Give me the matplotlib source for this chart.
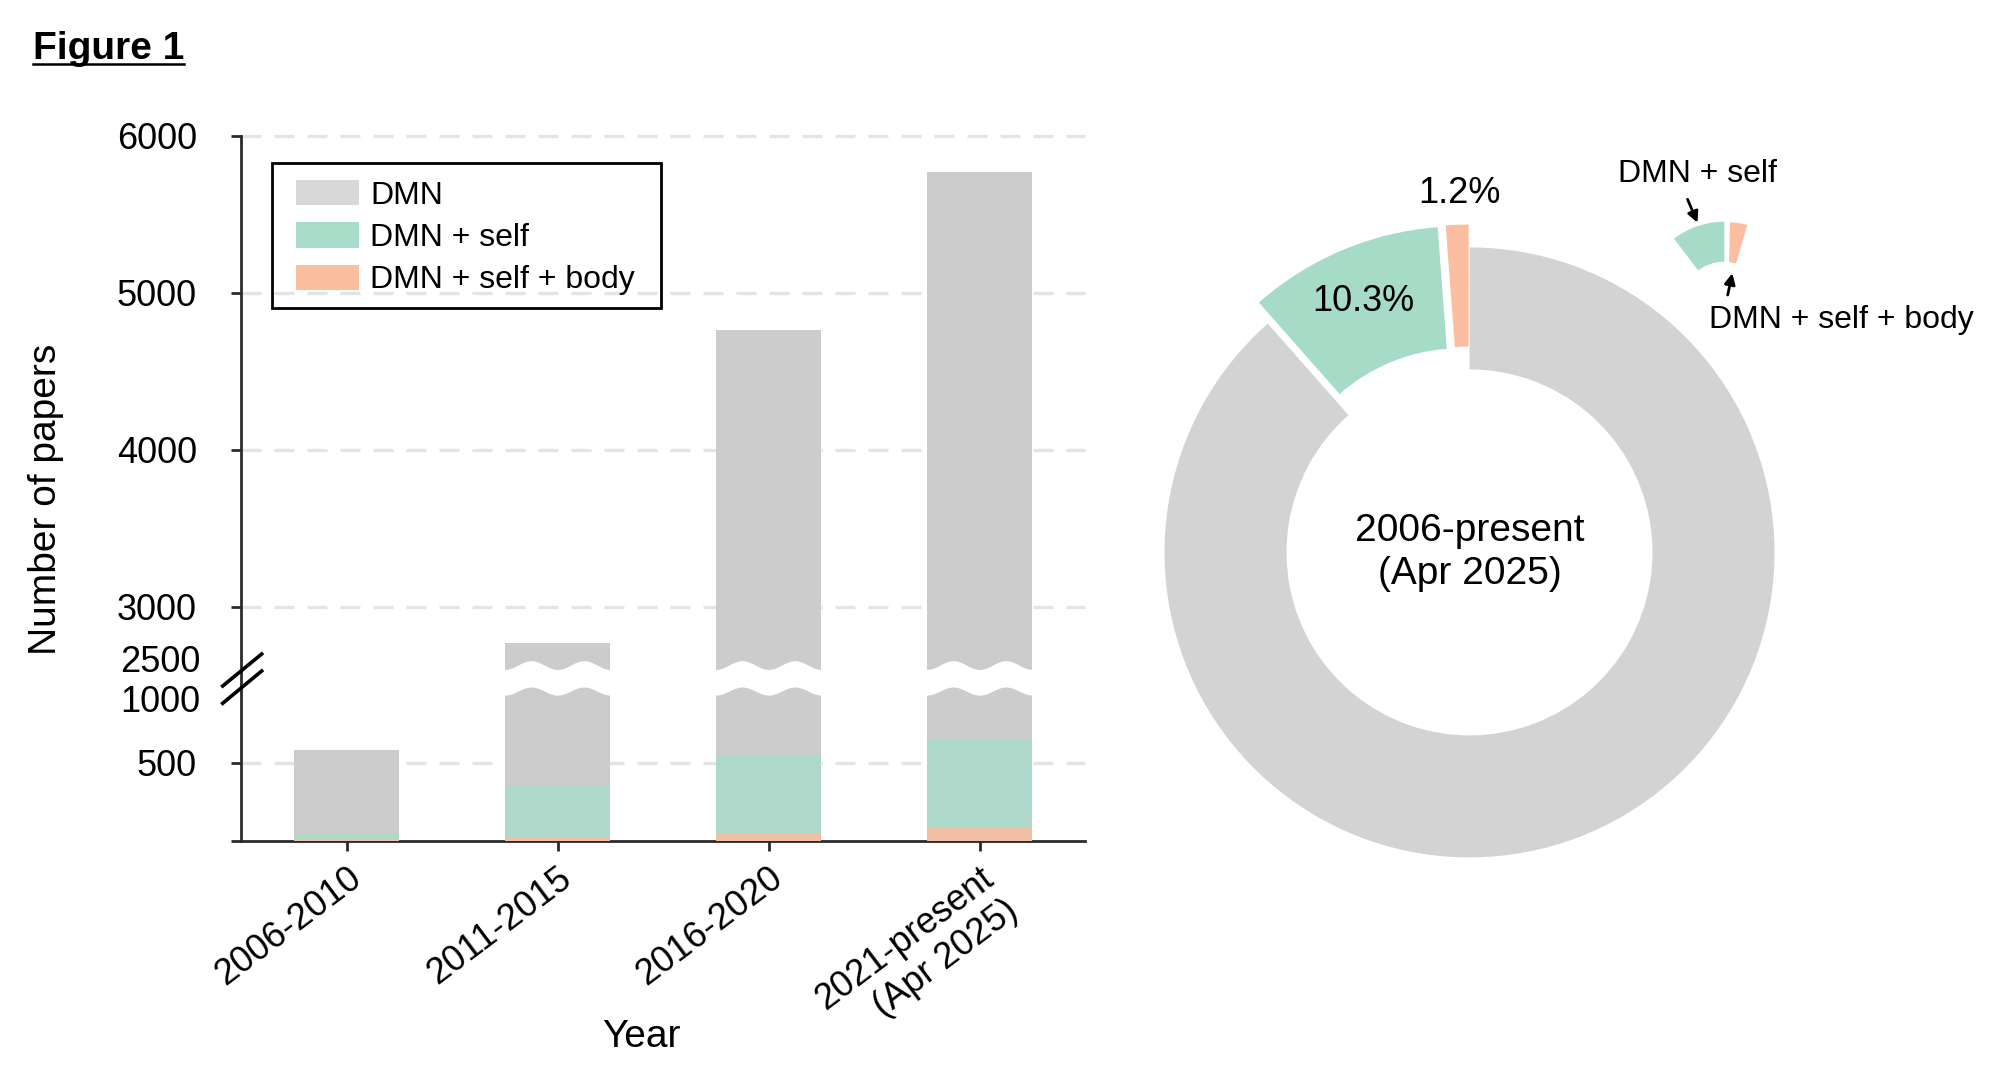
import numpy as np
import matplotlib.pyplot as plt
from matplotlib.patches import Patch, Wedge, Rectangle
from matplotlib.lines import Line2D

plt.rcParams['font.family'] = ['Liberation Sans', 'DejaVu Sans']

# данные
periods = ['2006-2010', '2011-2015', '2016-2020', '2021-present\n(Apr 2025)']
dmn_counts = [581, 2769, 4761, 5767]
self_counts = [51, 357, 549, 650]
body_counts = [3, 26, 51, 86]

series_labels = ['DMN', 'DMN + self', 'DMN + self + body']
pie_shares = [88.5, 10.3, 1.2]

upper_ticks = [3000, 4000, 5000, 6000]
lower_ticks = [0, 500]
lower_grid = [500]

bar_colors = ['#cccccc', '#aed8c9', '#f1bfa5']
legend_colors = ['#d8d8d8', '#a6dcc8', '#fbbfa0']
pie_colors = ['#d3d3d3', '#a6dbc8', '#fbbea0']

W, H, DPI = 2000, 1074, 200
fig = plt.figure(figsize=(W / DPI, H / DPI), dpi=DPI)


def px_box(left, top, right, bottom):
    return [left / W, 1 - bottom / H, (right - left) / W, (bottom - top) / H]


ax_top = fig.add_axes(px_box(241, 135.7, 1085, 685))
ax_bot = fig.add_axes(px_box(241, 685, 1085, 840.7))

x = np.arange(len(periods))
grid_kw = dict(color='#e4e4e4', lw=1.2, ls=(0, (6, 3.9)), zorder=1, clip_on=False)
for ax, grid in ((ax_top, upper_ticks), (ax_bot, lower_grid)):
    ax.bar(x, dmn_counts, width=0.5, color=bar_colors[0], lw=0, zorder=2)
    ax.bar(x, self_counts, width=0.5, color=bar_colors[1], lw=0, zorder=3)
    ax.bar(x, body_counts, width=0.5, color=bar_colors[2], lw=0, zorder=4)
    for g in grid:
        ax.axhline(g, **grid_kw)
    ax.set_xlim(-0.5, 3.5)
    for s in ('top', 'right'):
        ax.spines[s].set_visible(False)
    for s in ('left', 'bottom'):
        ax.spines[s].set_linewidth(1.0)
        ax.spines[s].set_color('#2b2b2b')
    ax.tick_params(axis='both', length=3.6, width=1.0, color='#2b2b2b')
    ax.tick_params(axis='y', labelsize=13, pad=12.2)

ax_top.set_ylim(2500, 6000)
ax_bot.set_ylim(0, 1000)
ax_top.spines['bottom'].set_visible(False)
ax_top.tick_params(axis='x', bottom=False, labelbottom=False)
ax_top.set_yticks(upper_ticks)
ax_bot.set_yticks(lower_ticks, ['', '500'])
ax_bot.set_xticks(x, periods, rotation=37, ha='right', va='top',
                  rotation_mode='anchor', fontsize=13)

# подписи у разрыва оси
lab_kw = dict(xycoords=('axes fraction', 'data'), textcoords='offset points',
              ha='right', va='center_baseline', fontsize=13)
ax_top.annotate('2500', xy=(0, 2500), xytext=(-14.6, 9.7), **lab_kw)
ax_bot.annotate('1000', xy=(0, 1000), xytext=(-14.6, -4.7), **lab_kw)

# знак разрыва на оси
for y0, y1 in ((0.9936, 1.199), (0.8825, 1.09)):
    ax_bot.plot([-0.0217, 0.0245], [y0, y1], transform=ax_bot.transAxes,
                color='black', lw=1.3, clip_on=False, zorder=7)

# волнистый белый разрыв на высоких столбцах
u = np.linspace(-0.004, 0.504, 200)
wave = np.cos(2 * np.pi * (u - 0.125) / 0.25)
for xi, h in zip(x, dmn_counts):
    if h > 1000:
        ax_bot.fill_between(xi - 0.25 + u, 961 + 26 * wave, 1128 + 28 * wave,
                            color='white', lw=0, zorder=6, clip_on=False)

handles = [Patch(facecolor=c, edgecolor='none', label=l)
           for c, l in zip(legend_colors, series_labels)]
ax_top.legend(handles=handles, loc='upper left', bbox_to_anchor=(0.0652, 0.9193),
              borderaxespad=0, borderpad=0, fontsize=11.5, frameon=False,
              handlelength=1.97, handleheight=0.83, handletextpad=0.35,
              labelspacing=0.37)
ax_top.add_patch(Rectangle((0.0364, 0.6858), 0.4609, 0.264, transform=ax_top.transAxes,
                           fill=False, ec='black', lw=1.0, clip_on=False, zorder=5))

fig.text(46 / W, 1 - 499 / H, 'Number of papers', rotation=90,
         ha='center', va='center', fontsize=14)
fig.text(641 / W, 1 - 1037 / H, 'Year', ha='center', va='center', fontsize=14)

title = fig.text(33 / W, 1 - 59.4 / H, 'Figure 1', fontsize=14,
                 fontweight='bold', va='baseline')
bb = title.get_window_extent(renderer=fig.canvas.get_renderer())
fig.add_artist(Line2D([bb.x0 / W, bb.x1 / W], [1 - 63.5 / H] * 2,
                      transform=fig.transFigure, color='black', lw=0.9))

# кольцевая диаграмма
ax_pie = fig.add_axes(px_box(1469.5 - 457.5, 552.4 - 457.5, 1469.5 + 457.5, 552.4 + 457.5))
ax_pie.pie(pie_shares, colors=pie_colors, startangle=90, counterclock=False,
           explode=[0, 0.075, 0.075], radius=1,
           wedgeprops=dict(width=0.4, linewidth=0))
ax_pie.set_xlim(-1.5, 1.5)
ax_pie.set_ylim(-1.5, 1.5)
ax_pie.set_aspect('equal')
ax_pie.axis('off')

ax_pie.text(0, 0, '2006-present\n(Apr 2025)', ha='center', va='center',
            fontsize=14, linespacing=1.25)
ax_pie.text(-0.348, 0.822, f'{pie_shares[1]}%', ha='center', va='center', fontsize=13)
ax_pie.text(-0.034, 1.176, f'{pie_shares[2]}%', ha='center', va='center', fontsize=13)

# маленький ключ справа сверху
ax_pie.add_patch(Wedge((0.8354, 0.8121), 0.2721, 90, 127.3, width=0.1311,
                       facecolor=pie_colors[1], lw=0))
ax_pie.add_patch(Wedge((0.8492, 0.8636), 0.2187, 73.6, 88.7, width=0.1311,
                       facecolor=pie_colors[2], lw=0))
ax_pie.text(0.749, 1.2407, series_labels[1], ha='center', va='center', fontsize=11.5)
ax_pie.text(1.2203, 0.762, series_labels[2], ha='center', va='center', fontsize=11.5)
arrow_kw = dict(arrowstyle='-|>', color='black', lw=1.0, mutation_scale=8,
                shrinkA=0, shrinkB=0)
ax_pie.annotate('', xy=(0.7475, 1.0811), xytext=(0.7148, 1.1578), arrowprops=arrow_kw)
ax_pie.annotate('', xy=(0.8616, 0.9151), xytext=(0.8466, 0.8439), arrowprops=arrow_kw)

fig.savefig('out.png', dpi=DPI)
